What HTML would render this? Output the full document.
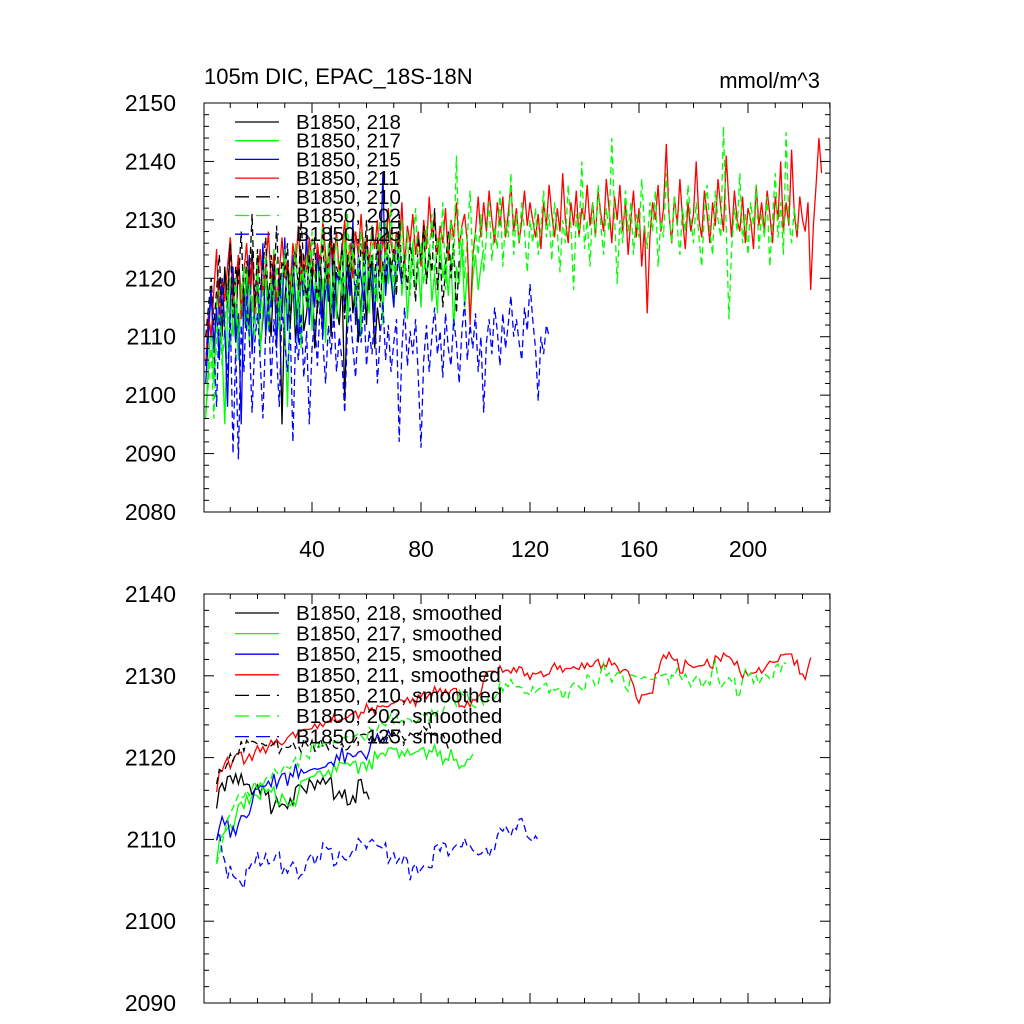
<!DOCTYPE html>
<html><head><meta charset="utf-8"><style>
html,body{margin:0;padding:0;background:#fff}
svg{display:block;font-family:"Liberation Sans",sans-serif}
</style></head><body>
<svg id="chart" width="1024" height="1024" viewBox="0 0 1024 1024"></svg>
<script>
const seriesNames = ["B1850, 218","B1850, 217","B1850, 215","B1850, 211","B1850, 210","B1850, 202","B1850, 125"];
const xTicks = [40,80,120,160,200];
const yTicksTop = [2080,2090,2100,2110,2120,2130,2140,2150];
const yTicksBot = [2090,2100,2110,2120,2130,2140];
const s218 = [5,12,18,8,15,20,10,22,14,27,18,9,24,16,12,20,11,25,15,19,8,13,22,17,10,21,14,18,-5,16,23,12,20,9,17,25,11,14,19,22,8,16,24,13,18,21,10,26,15,12,20,-1,17,23,14,19,9,16,21,12,24,18,8,15,11];
const s217 = [-4,5,12,2,15,18,8,-5,14,20,10,16,6,19,12,22,9,17,13,24,7,15,20,11,18,25,9,16,21,13,-2,17,23,12,19,8,22,15,27,11,18,24,14,20,9,26,16,21,13,23,17,28,12,19,25,15,22,10,27,18,14,24,20,16,26,12,30,19,23,15,21,28,17,24,13,20,26,18,22,15,29,19,25,16,21,14,27,20,23,17,24,11,22,19,26,15,21,13,20,24,18,22,25];
const s215 = [2,10,18,8,15,6,20,12,-2,16,22,9,14,-5,18,11,24,7,16,20,13,26,10,18,15,23,8,21,14,27,11,19,24,16,9,22,17,28,12,20,15,25,18,10,23,16,29,13,21,19,26,14,22,17,30,12,24,20,16,27,18,23,13,25,21,38,17,24,20,15,28,22,19];
const s211 = [5,14,10,18,25,12,20,16,22,27,15,19,24,13,21,26,18,23,14,20,25,17,22,28,19,24,16,21,27,20,23,18,26,22,29,19,24,21,27,23,20,26,22,30,24,19,27,23,28,21,25,30,22,26,20,28,24,31,23,27,22,29,25,30,21,27,24,32,26,23,28,25,33,22,29,26,31,24,28,22,30,25,34,27,31,24,29,26,32,23,30,27,33,25,29,31,26,12,24,28,34,27,33,28,35,30,26,33,29,34,27,31,36,28,32,26,30,35,29,33,30,27,31,25,33,29,36,31,27,32,28,38,30,26,33,29,35,27,32,30,36,29,33,27,35,31,28,37,32,26,34,30,36,28,33,24,30,35,27,32,22,29,14,27,33,30,36,28,32,43,31,26,34,29,37,30,25,33,28,31,40,30,27,35,31,26,33,29,37,32,28,41,33,27,35,30,28,34,26,32,30,25,36,29,33,28,35,31,26,34,30,40,28,33,29,42,31,27,34,30,28,33,18,29,36,44,38];
const s210 = [10,15,20,12,18,24,14,21,17,26,13,22,19,28,16,23,20,31,15,25,18,22,27,14,24,19,29,17,23,21,26,12,20,25,18,30,22,16,24,19,27,14,21,26,18,23,29,16,22,20,25,13,24,19,28,21,17,26,22,30,18,24,20,27,15,23,19,28,21,25,17,31,20,24,18,26,22,16,27,23,29,19,25,21,32,18,24,15,22,28,20,26,14,23];
const s202 = [-3,2,8,-4,10,15,5,12,18,8,14,20,10,16,22,12,19,15,9,21,14,18,24,12,20,16,23,11,19,25,14,21,17,26,13,22,18,24,15,28,20,16,23,30,18,25,14,22,27,19,24,17,31,21,26,15,23,28,18,25,20,29,16,24,30,19,26,22,33,18,27,23,30,20,28,17,25,32,21,26,19,29,24,31,20,27,23,33,18,26,30,22,41,24,29,20,27,35,22,28,24,31,21,27,33,23,29,25,35,22,30,27,38,24,31,26,33,28,21,30,26,32,24,29,35,27,31,23,33,28,21,30,26,36,29,18,31,27,40,25,30,22,33,27,36,29,24,32,28,44,31,19,30,26,35,28,33,24,31,27,37,29,25,33,28,35,22,30,27,38,31,26,34,29,24,32,28,36,30,26,33,27,22,31,36,28,24,35,30,27,46,29,13,25,32,28,38,26,31,24,33,29,36,25,31,27,34,22,30,38,27,33,24,45,30,26,32,28];
const s125 = [5,12,18,8,-2,15,20,10,3,14,-10,8,-11,12,4,17,10,-3,9,14,6,-4,11,16,2,13,7,-2,15,9,4,12,-8,10,6,14,3,11,-5,8,13,5,16,9,2,12,7,14,4,10,6,-3,11,15,8,3,13,9,16,5,11,7,14,2,10,16,6,12,4,9,13,-8,8,15,5,11,7,13,3,-9,6,12,4,10,15,7,11,3,14,8,5,13,9,2,11,16,6,12,8,14,4,10,-3,9,13,7,15,11,5,14,8,12,17,10,13,9,6,15,11,19,13,8,-1,10,7,12,10];
const seriesData = [s218,s217,s215,s211,s210,s202,s125];
const colors = ["#000","#0f0","#00f","#f00","#000","#0f0","#00f"];
const dashed = [false,false,false,false,true,true,true];

const NS="http://www.w3.org/2000/svg";
const svg=document.getElementById('chart');
function mk(tag,attrs,parent){const e=document.createElementNS(NS,tag);for(const k in attrs)e.setAttribute(k,attrs[k]);(parent||svg).appendChild(e);return e;}
const X0=204,X1=830;
const xs=v=>203+v*2.725;
function panel(top,bot,ymin,ymax,yt,name,showX,legendY,legendDy,suffix,smooth){
  const ys=v=>bot-(v-ymin)/(ymax-ymin)*(bot-top);
  const g=mk('g',{});
  
  
  seriesData.forEach((arr,i)=>{
    let pts=[];
    if(smooth){
      const w=4;
      for(let j=w;j<arr.length-w;j++){let s=0;for(let k=-w;k<=w;k++)s+=arr[j+k];pts.push([j+1,2100+s/(2*w+1)]);}
    } else arr.forEach((v,j)=>pts.push([j+1,2100+v]));
    const p=mk('polyline',{points:pts.map(q=>xs(q[0]).toFixed(1)+','+ys(q[1]).toFixed(1)).join(' '),fill:'none',stroke:colors[i],'stroke-width':1.3,'stroke-dasharray':dashed[i]?'7,4':'none'},g);
    
    
  });
  mk('rect',{x:X0,y:top,width:X1-X0,height:bot-top,fill:'none',stroke:'#000','stroke-width':1},g);
  for(let v=ymin;v<=ymax;v+=2){
    const major=(v%10===0);const L=major?10:5;const y=ys(v);
    mk('line',{x1:X0,y1:y,x2:X0+L,y2:y,stroke:'#000'},g);
    mk('line',{x1:X1,y1:y,x2:X1-L,y2:y,stroke:'#000'},g);
  }
  yt.forEach(v=>{const t=mk('text',{x:176,y:ys(v)+8,'font-size':23,'text-anchor':'end'},g);t.textContent=v;
    });
  for(let v=10;v<=230;v+=10){
    const major=(v%40===0);const L=major?10:5;const x=xs(v);
    mk('line',{x1:x,y1:bot,x2:x,y2:bot-L,stroke:'#000'},g);
    mk('line',{x1:x,y1:top,x2:x,y2:top+L,stroke:'#000'},g);
  }
  if(showX) xTicks.forEach(v=>{const t=mk('text',{x:xs(v),y:bot+45,'font-size':23,'text-anchor':'middle'},g);t.textContent=v;
    });
  seriesNames.forEach((n,i)=>{
    const y=legendY+i*legendDy;
    const l=mk('line',{x1:235,y1:y,x2:279,y2:y,stroke:colors[i],'stroke-width':1.3,'stroke-dasharray':dashed[i]?'14,7':'none'},g);
    
    const t=mk('text',{x:296,y:y+7,'font-size':20.5},g);t.textContent=n+suffix;
    
  });
}
panel(103,512,2080,2150,yTicksTop,'top-panel',true,122,18.7,'',false);
panel(594,1003,2090,2140,yTicksBot,'bottom-panel',false,613,20.6,', smoothed',true);
let t=mk('text',{x:204,y:84,'font-size':22});t.textContent='105m DIC, EPAC_18S-18N';

t=mk('text',{x:820,y:88,'font-size':22,'text-anchor':'end'});t.textContent='mmol/m^3';

</script>
</body></html>
